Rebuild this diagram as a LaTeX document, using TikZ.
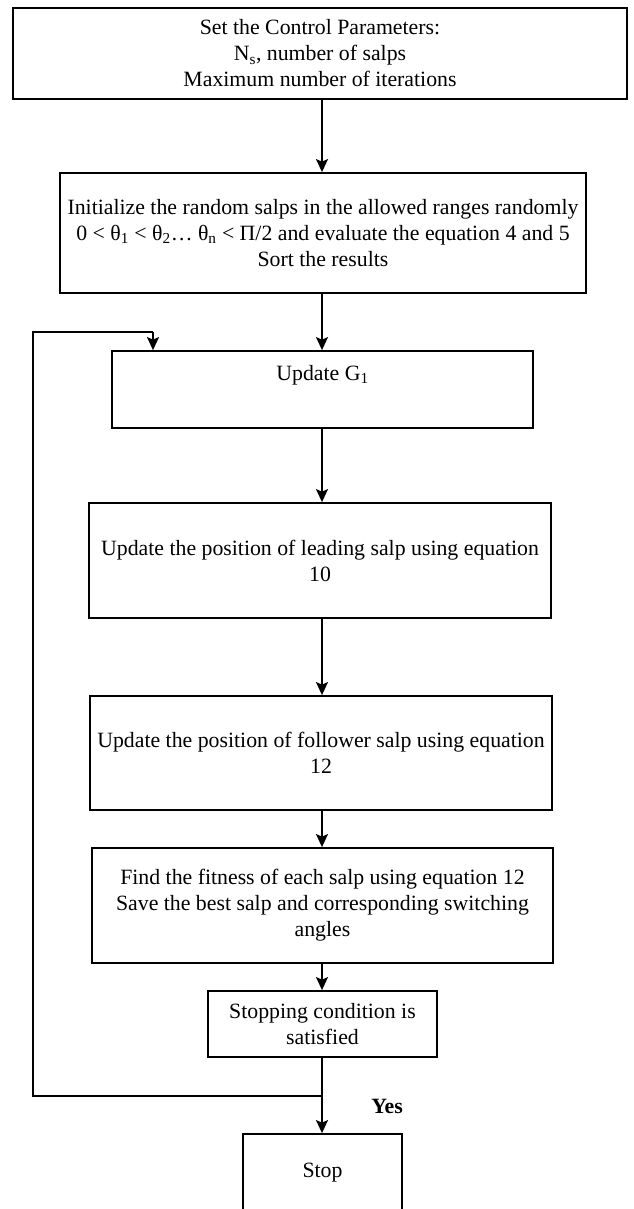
\documentclass[tikz,border=0pt]{standalone}
\usepackage{fontspec}
\setmainfont{Liberation Serif}
\usetikzlibrary{arrows.meta}
\tikzset{
  box/.style={draw=black, line width=1.8pt, rectangle, align=center, inner sep=0pt,
    font=\fontsize{21.8}{26}\selectfont},
  arr/.style={line width=1.6pt, -{Stealth[length=13pt,width=12pt,inset=2.5pt]}},
  plain/.style={line width=1.4pt},
}
\begin{document}
\begin{tikzpicture}[x=1pt,y=1pt]
\clip (0,0) rectangle (633,-1209);
\useasboundingbox (0,0) rectangle (633,-1209);
\fill[white] (0,0) rectangle (633,-1209);
\coordinate (spine) at (322,0);
\node[box, minimum width=614, minimum height=91] (b1) at (320,-53.5)
  {Set the Control Parameters:\\N\textsubscript{s}, number of salps\\Maximum number of iterations};
\node[box, minimum width=526, minimum height=120] (b2) at (323,-233)
  {Initialize the random salps in the allowed ranges randomly\\0 < θ\textsubscript{1} < θ\textsubscript{2}… θ\textsubscript{n} < Π/2 and evaluate the equation 4 and 5\\Sort the results};
\node[box, minimum width=421, minimum height=77] (b3) at (322.5,-389.5)
  {Update G\textsubscript{1}\\\strut};
\node[box, minimum width=462, minimum height=115] (b4) at (320,-560.5)
  {Update the position of leading salp using equation\\10};
\node[box, minimum width=462, minimum height=114] (b5) at (321,-753)
  {Update the position of follower salp using equation\\12};
\node[box, minimum width=461, minimum height=115] (b6) at (322.5,-905.5)
  {Find the fitness of each salp using equation 12\\Save the best salp and corresponding switching\\angles};
\node[box, minimum width=229, minimum height=66] (b7) at (322.5,-1024)
  {Stopping condition is\\satisfied};
\node[box, minimum width=159, minimum height=78] (stop) at (322.5,-1173)
  {Stop};
\node[font=\fontsize{21.8}{26}\selectfont\bfseries] (yes) at (387,-1106) {Yes};
\draw[arr] (b1.south -| spine) -- (b2.north -| spine);
\draw[arr] (b2.south -| spine) -- (b3.north -| spine);
\draw[arr] (b3.south -| spine) -- (b4.north -| spine);
\draw[arr] (b4.south -| spine) -- (b5.north -| spine);
\draw[arr] (b5.south -| spine) -- (b6.north -| spine);
\draw[arr] (b6.south -| spine) -- (b7.north -| spine);
\draw[arr] (b7.south -| spine) -- (stop.north -| spine);
\coordinate (j) at (322,-1096);
\coordinate (lt) at (33,-332);
\coordinate (la) at (153,-332);
\draw[plain] (j) -| (lt) -- (la);
\draw[arr] (la) -- (la |- b3.north);
\end{tikzpicture}
\end{document}
